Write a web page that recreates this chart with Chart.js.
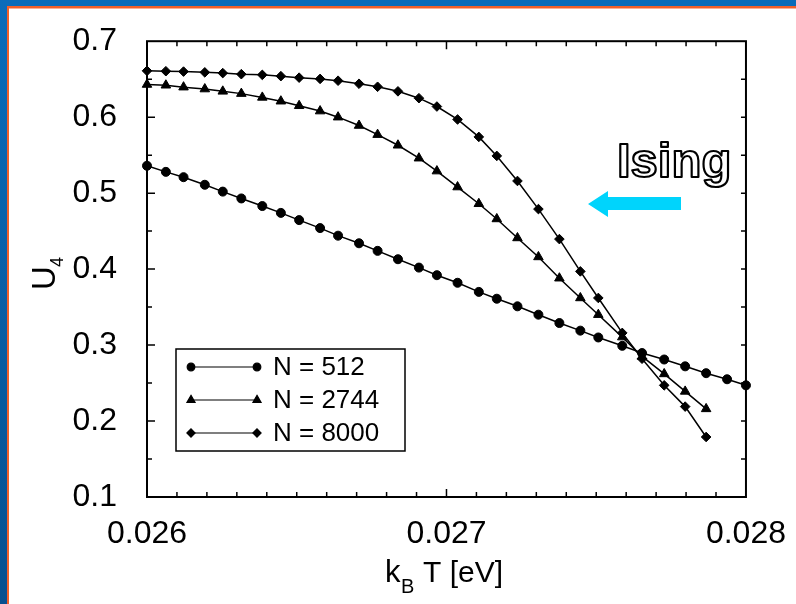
<!DOCTYPE html>
<html><head><meta charset="utf-8">
<script src="https://cdn.jsdelivr.net/npm/chart.js@4.4.1/dist/chart.umd.min.js"></script>
<style>html,body{margin:0;padding:0;background:#fff;overflow:hidden}canvas{display:block}</style>
</head><body>
<canvas id="c" width="796" height="604"></canvas>
<script>
const temperatures = [0.02600, 0.026063, 0.026122, 0.026193, 0.026253, 0.026315, 0.026385, 0.026447, 0.026508, 0.026578,
  0.026638, 0.026708, 0.026770, 0.026838, 0.026908, 0.026968, 0.027037, 0.027108, 0.027168, 0.027237,
  0.027307, 0.027377, 0.027447, 0.027507, 0.027587, 0.027653, 0.027727, 0.027797, 0.027867, 0.027937, 0.028000];
const u512 = [0.536, 0.528, 0.521, 0.511, 0.502, 0.493, 0.483, 0.474, 0.4645, 0.454,
  0.444, 0.434, 0.424, 0.413, 0.402, 0.392, 0.382, 0.370, 0.361, 0.351,
  0.340, 0.329, 0.319, 0.310, 0.299, 0.2895, 0.281, 0.272, 0.263, 0.255, 0.247];
const u2744 = [0.643, 0.642, 0.6395, 0.637, 0.634, 0.631, 0.626, 0.621, 0.615, 0.608,
  0.600, 0.589, 0.577, 0.563, 0.546, 0.529, 0.508, 0.486, 0.466, 0.441,
  0.416, 0.388, 0.362, 0.340, 0.3105, 0.285, 0.262, 0.239, 0.216];
const u8000 = [0.661, 0.6605, 0.660, 0.659, 0.658, 0.6566, 0.6557, 0.654, 0.652, 0.6504,
  0.648, 0.644, 0.640, 0.634, 0.625, 0.614, 0.597, 0.574, 0.549, 0.516,
  0.479, 0.4395, 0.397, 0.362, 0.316, 0.282, 0.247, 0.219, 0.179];
const seriesLabels = ['N = 512', 'N = 2744', 'N = 8000'];
const seriesStyles = ['circle', 'triangle', 'rectRot'];
const seriesRadii = [4.5, 5.5, 4.8];
const xMajorLabels = ['0.026', '0.027', '0.028'];
const yMajorLabels = ['0.1', '0.2', '0.3', '0.4', '0.5', '0.6', '0.7'];
const annotationText = 'Ising';

const FONT = '"Liberation Sans", Arial, Helvetica, sans-serif';
const toPts = (vals) => vals.map((v, i) => ({x: temperatures[i], y: v}));
const seriesValues = [u512, u2744, u8000];

const datasets = seriesValues.map((vals, i) => ({
  label: seriesLabels[i],
  data: toPts(vals),
  borderColor: '#000',
  backgroundColor: '#000',
  borderWidth: 1.5,
  pointStyle: seriesStyles[i],
  pointRadius: seriesRadii[i],
  pointBorderWidth: 1,
  pointBackgroundColor: '#000',
  pointBorderColor: '#000',
  tension: 0,
  clip: false
}));

const framePlugin = {
  id: 'frame',
  beforeDraw(chart) {
    const ctx = chart.ctx, W = chart.width, H = chart.height;
    ctx.save();
    const g = ctx.createLinearGradient(0, 0, 0, H);
    g.addColorStop(0, '#0a6cba');
    g.addColorStop(1, '#07508f');
    ctx.fillStyle = g;
    ctx.fillRect(0, 0, W, H);
    ctx.fillStyle = '#f0602a';
    ctx.fillRect(7, 6, W - 7, H - 6);
    ctx.fillStyle = '#ffffff';
    ctx.fillRect(9, 8.5, W - 9, H - 8.5);
    ctx.restore();
  },
  afterDraw(chart) {
    const ctx = chart.ctx, a = chart.chartArea;
    const xs = chart.scales.x, ys = chart.scales.y;
    ctx.save();
    ctx.strokeStyle = '#000';
    ctx.lineWidth = 1.5;
    ctx.beginPath();
    xs.ticks.forEach(t => {
      const px = xs.getPixelForValue(t.value);
      if (px <= a.left + 1 || px >= a.right - 1) return;
      const major = Math.round(t.value * 10000) % 10 === 0;
      const len = major ? 8 : 5;
      ctx.moveTo(px, a.bottom); ctx.lineTo(px, a.bottom - len);
      ctx.moveTo(px, a.top); ctx.lineTo(px, a.top + len);
    });
    ys.ticks.forEach(t => {
      const py = ys.getPixelForValue(t.value);
      if (py <= a.top + 1 || py >= a.bottom - 1) return;
      const major = Math.round(t.value * 100) % 10 === 0;
      const len = major ? 8 : 5;
      ctx.moveTo(a.left, py); ctx.lineTo(a.left + len, py);
      ctx.moveTo(a.right, py); ctx.lineTo(a.right - 5, py);
    });
    ctx.stroke();
    ctx.lineWidth = 2;
    ctx.strokeRect(a.left, a.top, a.right - a.left, a.bottom - a.top);

    // legend box
    const lx = 176, ly = 349, lw = 229, lh = 102;
    ctx.lineWidth = 1.5;
    ctx.fillStyle = '#fff';
    ctx.fillRect(lx, ly, lw, lh);
    ctx.strokeRect(lx, ly, lw, lh);
    chart.data.datasets.forEach((ds, i) => {
      const y = 367 + i * 33;
      ctx.strokeStyle = '#000';
      ctx.lineWidth = 1.2;
      ctx.beginPath(); ctx.moveTo(191, y); ctx.lineTo(257, y); ctx.stroke();
      ctx.fillStyle = '#000';
      const opt = {pointStyle: ds.pointStyle, radius: ds.pointRadius * 0.85, rotation: 0, borderWidth: 1};
      Chart.helpers.drawPoint(ctx, opt, 191, y);
      Chart.helpers.drawPoint(ctx, opt, 257, y);
      ctx.font = '26px ' + FONT;
      ctx.textAlign = 'left';
      ctx.textBaseline = 'middle';
      ctx.fillText(ds.label, 273, y + 1);
    });

    // axis titles
    ctx.fillStyle = '#000';
    ctx.textBaseline = 'alphabetic';
    ctx.textAlign = 'left';
    ctx.font = '31px ' + FONT;
    ctx.fillText('k', 385, 582);
    ctx.font = '20px ' + FONT;
    ctx.fillText('B', 401, 593);
    ctx.font = '30px ' + FONT;
    ctx.fillText('T [eV]', 423, 582);

    ctx.save();
    ctx.translate(55, 290);
    ctx.rotate(-Math.PI / 2);
    ctx.font = '33px ' + FONT;
    ctx.fillText('U', 0, 0);
    ctx.font = '18px ' + FONT;
    ctx.fillText('4', 23, 8);
    ctx.restore();

    // Ising annotation
    ctx.font = 'bold 49px ' + FONT;
    ctx.lineJoin = 'round';
    ctx.lineWidth = 2.2;
    ctx.strokeStyle = '#000';
    ctx.fillStyle = '#fff';
    ctx.fillText(annotationText, 617, 177);
    ctx.strokeText(annotationText, 617, 177);

    // cyan arrow
    ctx.fillStyle = '#00d4fc';
    ctx.beginPath();
    ctx.moveTo(588, 204);
    ctx.lineTo(608, 191);
    ctx.lineTo(608, 197);
    ctx.lineTo(681, 197);
    ctx.lineTo(681, 210);
    ctx.lineTo(608, 210);
    ctx.lineTo(608, 217);
    ctx.closePath();
    ctx.fill();
    ctx.restore();
  }
};

new Chart(document.getElementById('c'), {
  type: 'line',
  data: {datasets},
  options: {
    responsive: false,
    animation: false,
    layout: {padding: {left: 0, top: 41, right: 48, bottom: 0}},
    plugins: {legend: {display: false}, tooltip: {enabled: false}},
    scales: {
      x: {
        type: 'linear', min: 0.026, max: 0.028,
        grid: {display: false}, border: {display: false},
        afterFit(s) { s.height = 107; },
        ticks: {
          stepSize: 0.0001, autoSkip: false, maxRotation: 0, padding: 10,
          color: '#000', font: {size: 32, family: FONT},
          callback(v) {
            const k = Math.round(v * 10000);
            if (k % 10 !== 0) return '';
            const idx = (k - 260) / 10;
            return xMajorLabels[idx] !== undefined ? xMajorLabels[idx] : '';
          }
        }
      },
      y: {
        type: 'linear', min: 0.1, max: 0.7,
        grid: {display: false}, border: {display: false},
        afterFit(s) { s.width = 147; },
        ticks: {
          stepSize: 0.05, autoSkip: false, padding: 22,
          color: '#000', font: {size: 32, family: FONT},
          callback(v) {
            const k = Math.round(v * 100);
            if (k % 10 !== 0) return '';
            const idx = (k - 10) / 10;
            return yMajorLabels[idx] !== undefined ? yMajorLabels[idx] : '';
          }
        }
      }
    }
  },
  plugins: [framePlugin]
});
</script>
</body></html>
